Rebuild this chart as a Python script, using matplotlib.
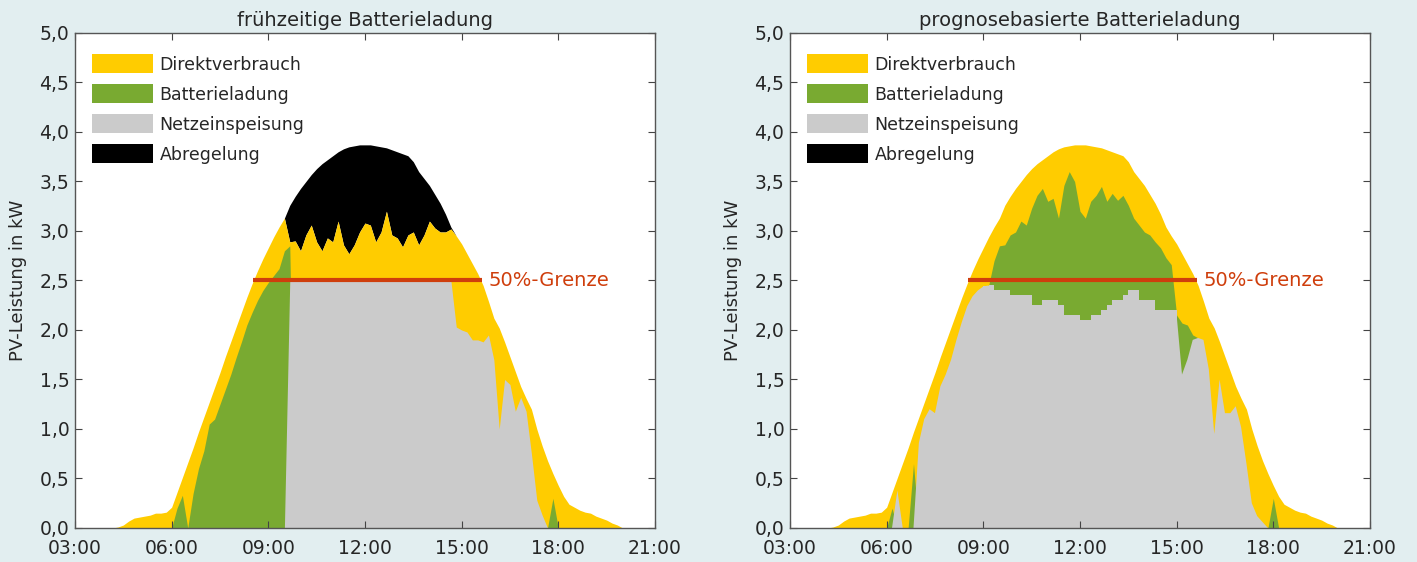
import numpy as np
import matplotlib.pyplot as plt
from matplotlib.patches import Patch

# 10-Minuten-Raster von 03:00 bis 21:00 (Stunden als Dezimalzahl)
zeit = 3 + np.arange(109) / 6

# PV-Erzeugung in kW (fuer beide Strategien gleich)
pv = np.array([
    0.00, 0.00, 0.00, 0.00, 0.00, 0.00,   # 03:00
    0.00, 0.00, 0.01, 0.03, 0.07, 0.10,   # 04:00
    0.11, 0.12, 0.13, 0.15, 0.15, 0.16,   # 05:00
    0.21, 0.36, 0.51, 0.66, 0.81, 0.97,   # 06:00
    1.12, 1.27, 1.42, 1.57, 1.73, 1.88,   # 07:00
    2.03, 2.18, 2.33, 2.47, 2.60, 2.72,   # 08:00
    2.83, 2.94, 3.04, 3.13, 3.26, 3.35,   # 09:00
    3.43, 3.50, 3.57, 3.63, 3.68, 3.72,   # 10:00
    3.76, 3.80, 3.83, 3.85, 3.86, 3.87,   # 11:00
    3.87, 3.87, 3.86, 3.85, 3.84, 3.82,   # 12:00
    3.80, 3.78, 3.76, 3.70, 3.60, 3.53,   # 13:00
    3.46, 3.37, 3.28, 3.17, 3.04, 2.95,   # 14:00
    2.87, 2.77, 2.67, 2.57, 2.45, 2.29,   # 15:00
    2.12, 2.02, 1.88, 1.73, 1.58, 1.43,   # 16:00
    1.31, 1.20, 1.00, 0.83, 0.68, 0.55,   # 17:00
    0.43, 0.32, 0.24, 0.21, 0.18, 0.16,   # 18:00
    0.15, 0.12, 0.10, 0.08, 0.05, 0.03,   # 19:00
    0.00, 0.00, 0.00, 0.00, 0.00, 0.00,   # 20:00
    0.00,                                 # 21:00
])

# --- fruehzeitige Ladung: Oberkante Direktverbrauch 09:40 - 14:40 (darueber Abregelung)
gelb_mitte_l = [
    2.89, 2.90,                                  # 09:40
    2.80, 2.96, 3.06, 2.89, 2.80, 2.93,          # 10:00
    2.89, 3.10, 2.86, 2.77, 2.86, 2.99,          # 11:00
    3.08, 3.06, 2.89, 2.99, 3.20, 2.96,          # 12:00
    2.93, 2.84, 2.96, 2.99, 2.86, 2.96,          # 13:00
    3.10, 3.03, 2.99, 2.99, 3.02,                # 14:00
]
# Oberkante Batterieladung 06:00 - 09:50
gruen_l_morgen = [
    0.00, 0.20, 0.33, 0.00, 0.35, 0.60,
    0.78, 1.05, 1.10, 1.25, 1.40, 1.55,
    1.72, 1.88, 2.05, 2.18, 2.30, 2.40,
    2.48, 2.55, 2.62, 2.80, 2.85, 0.00,
]
# Oberkante Netzeinspeisung 09:30 - 17:40
grau_l_werte = [
    0.00, 2.50, 2.50,                            # 09:30
    2.50, 2.50, 2.50, 2.50, 2.50, 2.50,          # 10:00
    2.50, 2.50, 2.50, 2.50, 2.50, 2.50,          # 11:00
    2.50, 2.50, 2.50, 2.50, 2.50, 2.50,          # 12:00
    2.50, 2.50, 2.50, 2.50, 2.50, 2.50,          # 13:00
    2.50, 2.50, 2.50, 2.50, 2.50, 2.03,          # 14:00
    2.00, 1.98, 1.90, 1.90, 1.88, 1.95,          # 15:00
    1.70, 1.00, 1.50, 1.45, 1.18, 1.32,          # 16:00
    1.18, 0.75, 0.28, 0.13, 0.00,                # 17:00
]

# --- prognosebasierte Ladung: Oberkante Netzeinspeisung 06:00 - 17:50
grau_r_werte = [
    0.00, 0.00, 0.38, 0.00, 0.00, 0.00,          # 06:00
    0.86, 1.10, 1.20, 1.16, 1.43, 1.55,          # 07:00
    1.70, 1.90, 2.08, 2.24, 2.34, 2.40,          # 08:00
    2.44, 2.45, 2.40, 2.40, 2.40, 2.35,          # 09:00
    2.35, 2.35, 2.35, 2.25, 2.25, 2.30,          # 10:00
    2.30, 2.30, 2.25, 2.15, 2.15, 2.15,          # 11:00
    2.10, 2.10, 2.15, 2.15, 2.20, 2.25,          # 12:00
    2.30, 2.30, 2.35, 2.40, 2.40, 2.30,          # 13:00
    2.30, 2.30, 2.20, 2.20, 2.20, 2.20,          # 14:00
    2.15, 1.55, 1.70, 1.90, 1.92, 1.90,          # 15:00
    1.60, 0.95, 1.50, 1.16, 1.16, 1.23,          # 16:00
    1.02, 0.65, 0.25, 0.12, 0.06, 0.00,          # 17:00
]
# Oberkante Batterieladung 09:10 - 15:40
gruen_r_werte = [
    2.45, 2.70, 2.85, 2.86, 2.96,                # 09:10
    2.99, 3.10, 3.06, 3.23, 3.36, 3.43,          # 10:00
    3.30, 3.33, 3.13, 3.46, 3.60, 3.50,          # 11:00
    3.20, 3.13, 3.30, 3.36, 3.45, 3.30,          # 12:00
    3.38, 3.31, 3.36, 3.26, 3.13, 3.06,          # 13:00
    2.99, 2.96, 2.89, 2.83, 2.73, 2.66,          # 14:00
    2.15, 2.07, 2.05, 1.95, 1.92,                # 15:00
]
# einzelne Ladespitzen (Zeit, kW)
spitzen_l = [(17.83, 0.30)]
spitzen_r = [(6.17, 0.20), (6.83, 0.65), (18.0, 0.30)]

grenze_kw = 2.5
grenze_zeit = [8.53, 15.62]

titel = ["frühzeitige Batterieladung", "prognosebasierte Batterieladung"]
legende = ["Direktverbrauch", "Batterieladung", "Netzeinspeisung", "Abregelung"]


def idx(h):
    return int(round((h - 3) * 6))


gelb_l = pv.copy()
gelb_l[idx(9 + 40 / 60):idx(9 + 40 / 60) + len(gelb_mitte_l)] = gelb_mitte_l
gruen_l = np.zeros_like(pv)
gruen_l[idx(6):idx(6) + len(gruen_l_morgen)] = gruen_l_morgen
for h, v in spitzen_l:
    gruen_l[idx(h)] = v
grau_l = np.zeros_like(pv)
grau_l[idx(9.5):idx(9.5) + len(grau_l_werte)] = grau_l_werte

gelb_r = pv.copy()
gruen_r = np.zeros_like(pv)
gruen_r[idx(9 + 10 / 60):idx(9 + 10 / 60) + len(gruen_r_werte)] = gruen_r_werte
for h, v in spitzen_r:
    gruen_r[idx(h)] = v
grau_r = np.zeros_like(pv)
grau_r[idx(6):idx(6) + len(grau_r_werte)] = grau_r_werte

BG = "#e2eef0"
GELB = "#ffcc00"
GRUEN = "#79aa31"
GRAU = "#cbcbcb"
ROT = "#cf3e0c"
TXT = "#262626"

fig = plt.figure(figsize=(14.17, 5.62), dpi=100, facecolor=BG)
ax_l = fig.add_axes([0.0529, 0.0605, 0.4093, 0.8808])
ax_r = fig.add_axes([0.5575, 0.0605, 0.4093, 0.8808])

# Stufenbereich der prognosebasierten Einspeisegrenze (ueberlappt leicht mit dem linearen Teil)
stufen = (zeit >= 9.0 - 1e-6) & (zeit <= 15.0 + 1e-6)
linear = (zeit <= 9 + 10 / 60 + 1e-6) | (zeit >= 15.0 - 1e-6)

for ax, gelb, gruen, grau, tt, stufig in [
    (ax_l, gelb_l, gruen_l, grau_l, titel[0], False),
    (ax_r, gelb_r, gruen_r, grau_r, titel[1], True),
]:
    ax.set_facecolor("white")
    ax.fill_between(zeit, gelb, pv, color="black", lw=0)
    ax.fill_between(zeit, 0, gelb, color=GELB, lw=0)
    ax.fill_between(zeit, 0, gruen, color=GRUEN, lw=0)
    if stufig:
        ax.fill_between(zeit, 0, grau, where=linear, color=GRAU, lw=0)
        ax.fill_between(zeit, 0, grau, where=stufen, step="post", color=GRAU, lw=0)
    else:
        ax.fill_between(zeit, 0, grau, color=GRAU, lw=0)

    ax.plot(grenze_zeit, [grenze_kw, grenze_kw], color=ROT, lw=3, solid_capstyle="butt")
    ax.annotate("50%-Grenze", xy=(grenze_zeit[1], grenze_kw), xytext=(5, 0),
                textcoords="offset points", va="center", ha="left", color=ROT, fontsize=14)

    ax.set_xlim(3, 21)
    ax.set_ylim(0, 5)
    ax.set_xticks(range(3, 22, 3))
    ax.set_xticklabels([f"{h:02d}:00" for h in range(3, 22, 3)])
    yt = np.arange(0, 5.01, 0.5)
    ax.set_yticks(yt)
    ax.set_yticklabels([f"{v:.1f}".replace(".", ",") for v in yt])
    ax.tick_params(direction="in", top=True, right=True, length=5, width=0.8,
                   labelsize=13.5, colors="#444444", labelcolor=TXT)
    ax.tick_params(axis="x", pad=8)
    ax.tick_params(axis="y", pad=4)
    for s in ax.spines.values():
        s.set_color("#555555")
        s.set_linewidth(1.0)
    ax.set_ylabel("PV-Leistung in kW", fontsize=13, color=TXT, labelpad=9)
    ax.set_title(tt, fontsize=14, color=TXT, pad=5)

    handles = [Patch(facecolor=c, edgecolor="none") for c in (GELB, GRUEN, GRAU, "black")]
    ax.legend(handles, legende, loc="upper left", bbox_to_anchor=(0.029, 0.957),
              frameon=False, fontsize=12.5, handlelength=3.55, handleheight=1.3,
              labelspacing=0.62, handletextpad=0.35, borderaxespad=0, borderpad=0,
              labelcolor=TXT)

fig.savefig("out.png", dpi=100, facecolor=BG)
